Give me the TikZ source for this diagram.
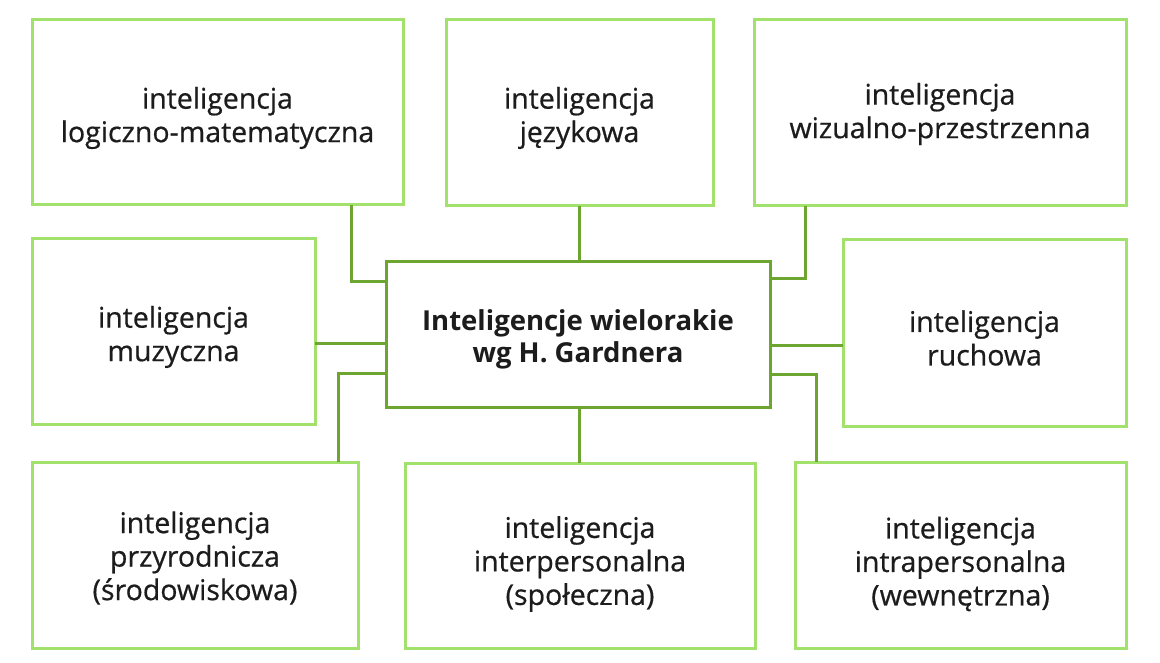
\documentclass[tikz,border=0pt]{standalone}
\usepackage{fontspec}
\setmainfont{Open Sans}[FakeBold=0.6]
\newfontfamily\cfont{Open Sans}
\definecolor{light}{HTML}{A2E26C}
\definecolor{dark}{HTML}{6CA530}
\definecolor{txt}{HTML}{1C1C1C}
\begin{document}
\begin{tikzpicture}[x=1pt,y=-1pt,
  box/.style={draw=light,line width=3pt,text=txt,align=center,font=\fontsize{28.5}{33.5}\selectfont},
  cbox/.style={draw=dark,line width=3pt,text=txt,align=center,font=\cfont\fontsize{27.5}{32}\selectfont\bfseries},
  conn/.style={draw=dark,line width=3pt}]
\useasboundingbox (0,0) rectangle (1160,663);
\fill[white] (0,0) rectangle (1160,663);
% boxes
\draw[box] (32,20) rectangle (403,205);
\node[box,draw=none] (b1) at (217.5,118) {inteligencja\\logiczno-matematyczna};
\draw[box] (446,20) rectangle (713,206);
\node[box,draw=none] (b2) at (579.5,118) {inteligencja\\językowa};
\draw[box] (754,20) rectangle (1126,206);
\node[box,draw=none] (b3) at (940,114) {inteligencja\\wizualno-przestrzenna};
\draw[box] (32,239) rectangle (315,424);
\node[box,draw=none] (b4) at (173.5,337) {inteligencja\\muzyczna};
\draw[cbox] (386,262) rectangle (770,407);
\node[cbox,draw=none] (c) at (578,339) {Inteligencje wielorakie\\wg H. Gardnera};
\draw[box] (843,240) rectangle (1126,426);
\node[box,draw=none] (b5) at (984.5,338) {inteligencja\\ruchowa};
\draw[box] (32,462) rectangle (358,648);
\node[box,draw=none] (b6) at (195,558) {inteligencja\\przyrodnicza\\(środowiskowa)};
\draw[box] (405,463) rectangle (755,648);
\node[box,draw=none] (b7) at (580,564) {inteligencja\\interpersonalna\\(społeczna)};
\draw[box] (795,462) rectangle (1126,648);
\node[box,draw=none] (b8) at (960.5,564) {inteligencja\\intrapersonalna\\(wewnętrzna)};
% connectors
\draw[conn] (351,205) |- (386,282);
\draw[conn] (579,206) -- (579,262);
\draw[conn] (805,206) |- (770,279);
\draw[conn] (315,343) -- (386,343);
\draw[conn] (386,373) -| (338,462);
\draw[conn] (770,345) -- (843,345);
\draw[conn] (770,374) -| (816,462);
\draw[conn] (579,407) -- (579,463);
\end{tikzpicture}
\end{document}
